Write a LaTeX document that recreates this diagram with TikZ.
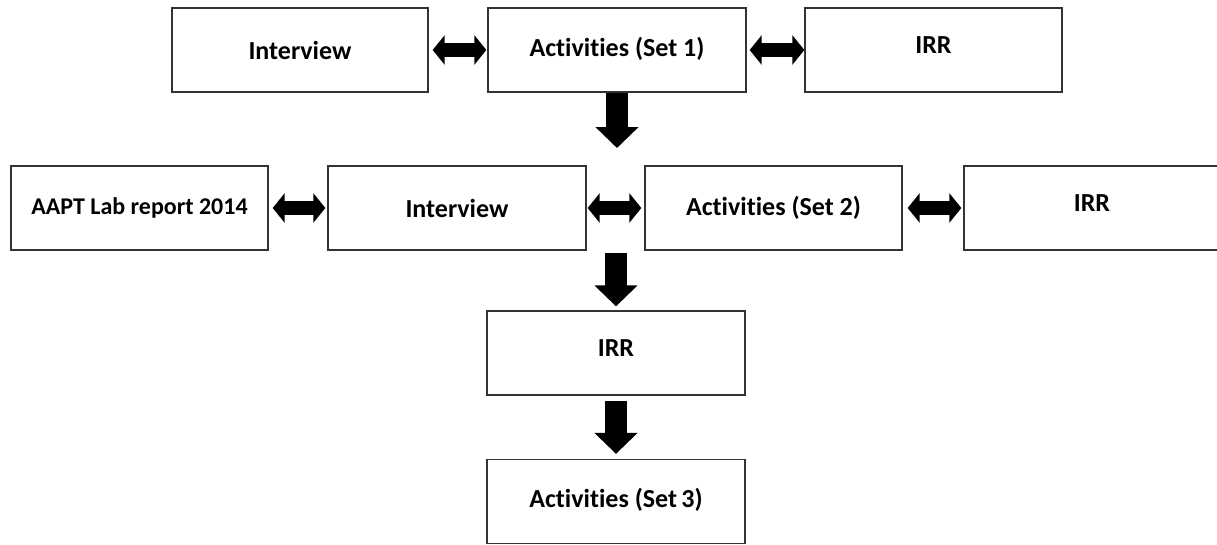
\documentclass[tikz,border=0pt]{standalone}
\usepackage{fontspec}
\setmainfont{Carlito}[Ligatures=NoCommon]
\usetikzlibrary{arrows.meta}
\begin{document}
\begin{tikzpicture}[x=1pt,y=-1pt,
  box/.style={draw=black!80, line width=1.3pt, fill=white, minimum height=84pt, inner sep=0pt, font=\fontsize{26}{30}\selectfont\bfseries},
  harrow/.style={line width=14pt, {Triangle[length=12pt,width=29pt]}-{Triangle[length=12pt,width=29pt]}},
  varrow/.style={line width=22pt, -{Triangle[length=21pt,width=42pt]}}]
\useasboundingbox (0,0) rectangle (1217,544);
% row 1
\node[box, minimum width=256pt] (int1) at (300,50) {Interview};
\node[box, minimum width=258pt] (act1) at (617,50) {\raisebox{6pt}{Activities (Set 1)}};
\node[box, minimum width=257pt] (irr1) at (933.5,50) {\raisebox{10pt}{IRR}};
% row 2
\node[box, minimum width=257pt, font=\fontsize{24}{28}\selectfont\bfseries] (aapt) at (139.5,208) {AAPT Lab report 2014};
\node[box, minimum width=258pt] (int2) at (457,208) {Interview};
\node[box, minimum width=257pt] (act2) at (773.5,208) {Activities (Set 2)};
\node[box, minimum width=256pt] (irr2) at (1092,208) {\raisebox{10pt}{IRR}};
% row 3
\node[box, minimum width=258pt] (irr3) at (616,353) {\raisebox{10pt}{IRR}};
\node[box, minimum width=258pt] (act3) at (616,501.5) {\raisebox{7pt}{Activities (Set\,3)}};
% coordinates
\coordinate (c1) at (617,148);
\coordinate (c2) at (616,253);
% arrows
\draw[harrow, shorten <=4pt, shorten >=1pt] (int1.east) -- (act1.west);
\draw[harrow, shorten <=3pt, shorten >=0pt] (act1.east) -- (irr1.west);
\draw[harrow, shorten <=4pt, shorten >=2pt] (aapt.east) -- (int2.west);
\draw[harrow, shorten <=1pt, shorten >=3pt] (int2.east) -- (act2.west);
\draw[harrow, shorten <=5pt, shorten >=2pt] (act2.east) -- (irr2.west);
\draw[varrow] (act1.south) -- (c1);
\draw[varrow, shorten >=4pt] (c2) -- (irr3.north);
\draw[varrow, shorten <=5pt, shorten >=5pt] (irr3.south) -- (act3.north);
\end{tikzpicture}
\end{document}
